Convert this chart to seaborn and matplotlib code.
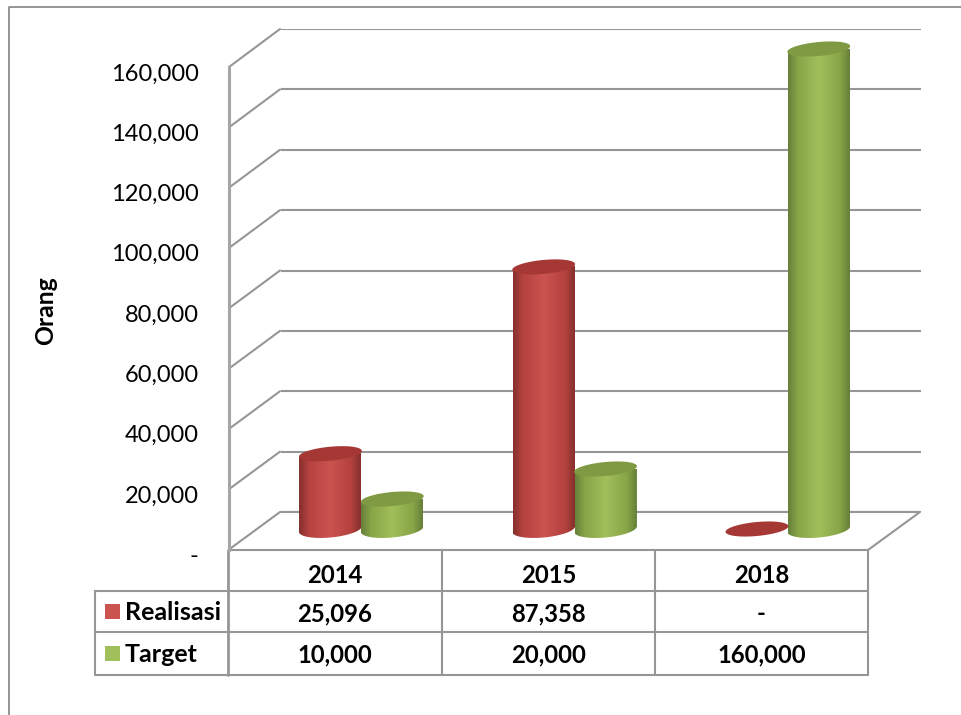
import numpy as np
import pandas as pd
import matplotlib
matplotlib.use("Agg")
import matplotlib.pyplot as plt
from matplotlib.colors import LinearSegmentedColormap
from matplotlib.patches import Polygon, Rectangle
from matplotlib.ticker import FuncFormatter
from matplotlib.transforms import ScaledTranslation
import seaborn as sns

# Data
years = ["2014", "2015", "2018"]
realisasi = [25096, 87358, 0]
target = [10000, 20000, 160000]
series_names = ["Realisasi", "Target"]
y_ticks = [0, 20000, 40000, 60000, 80000, 100000, 120000, 140000, 160000]

# Colours: edge, shoulder, mid tone, cap
RED = ("#86302d", "#b5423f", "#cb5350", "#a53835")
GREEN = ("#66803a", "#88a548", "#a1bf5a", "#7f9a42")
LINE = "#969696"

sns.set_theme(style="white")
plt.rcParams["font.family"] = ["Lato", "DejaVu Sans"]

W, H = 962, 715
fig = plt.figure(figsize=(W / 100, H / 100), dpi=100, facecolor="white")


def axes_px(x0, x1, y_bottom, y_top):
    """Create an axes from pixel bounds measured from the top-left corner."""
    return fig.add_axes([x0 / W, 1 - y_bottom / H, (x1 - x0) / W, (y_bottom - y_top) / H])


def fmt(v):
    return "-" if v == 0 else f"{v:,.0f}"


# Full-figure layer for the frame, floor and table rules
canvas = axes_px(0, W, H, 0)
canvas.set_xlim(0, W)
canvas.set_ylim(H, 0)
canvas.axis("off")
canvas.plot([9, 9, W], [H, 7, 7], color="#8c8c8c", lw=1.3, clip_on=False)

# Back wall with the gridlines
ax_back = axes_px(281, 921, 512, 29)
ax_back.patch.set_alpha(0)
ax_back.set_ylim(0, 160000)
ax_back.set_yticks(y_ticks)
ax_back.set_xticks([])
ax_back.tick_params(left=False, labelleft=False)
ax_back.grid(axis="y", color=LINE, lw=1.5)
sns.despine(ax=ax_back, left=True, bottom=True)

# Front axis carrying the tick labels
ax_front = axes_px(229, 868, 549.5, 67)
ax_front.patch.set_alpha(0)
ax_front.set_ylim(0, 160000)
ax_front.set_yticks(y_ticks)
ax_front.set_xticks([])
ax_front.yaxis.set_major_formatter(FuncFormatter(lambda v, _: fmt(v)))
ax_front.tick_params(axis="y", length=0, pad=22, labelsize=17, labelcolor="black")
label_shift = ScaledTranslation(0, -3.5 / 72, fig.dpi_scale_trans)
for tick_label in ax_front.get_yticklabels():
    tick_label.set_transform(tick_label.get_transform() + label_shift)
ax_front.set_ylabel("Orang", fontsize=17.8, fontweight="bold", color="black")
ax_front.yaxis.set_label_coords((57 - 229) / 639, 0.496)
sns.despine(ax=ax_front, bottom=True)
ax_front.spines["left"].set_color("#a6a6a6")
ax_front.spines["left"].set_linewidth(2.2)

# Diagonal wall lines joining each front tick to its back gridline
to_canvas = canvas.transData.inverted()
for t in y_ticks:
    fx, fy = to_canvas.transform(ax_front.transData.transform((0, t)))
    bx, by = to_canvas.transform(ax_back.transData.transform((0, t)))
    canvas.plot([fx, fx + 51], [fy, by], color=LINE, lw=1.5, solid_capstyle="round")

# Floor
canvas.plot([229, 868, 920, 281], [550, 550, 512, 512], color=LINE, lw=1.5)

# Bars, dressed up as cylinders below; the axes reach under the baseline
# so the rounded cylinder bottoms stay inside the drawing area
PX_PER_UNIT = (529 - 49) / 160000
BELOW = 20 / PX_PER_UNIT
ax_bars = axes_px(254.7, 894.5, 549, 49)
ax_bars.patch.set_alpha(0)
df = pd.DataFrame({
    "Tahun": years * 2,
    "Orang": realisasi + target,
    "Seri": [series_names[0]] * 3 + [series_names[1]] * 3,
})
sns.barplot(data=df, x="Tahun", y="Orang", hue="Seri", hue_order=series_names,
            palette=[RED[2], GREEN[2]], width=0.58, gap=0, legend=False,
            errorbar=None, ax=ax_bars)
ax_bars.set_xlim(-0.5, 2.5)
ax_bars.set_ylim(-BELOW, 160000)
ax_bars.axis("off")

CAP_B = 7
BASE_B = 8.5
TILT = 0.09


def ellipse_pts(cx, cy, a, b, t):
    x = cx + a * np.cos(t)
    y = cy + b * np.sin(t) - TILT * (x - cx)
    return np.column_stack([x, y])


def px_point(x, y):
    return to_canvas.transform(ax_bars.transData.transform((x, y)))


for container, colours in zip(ax_bars.containers, (RED, GREEN)):
    cmap = LinearSegmentedColormap.from_list(
        "cyl",
        [(0, colours[0]), (0.16, colours[1]), (0.5, colours[2]), (0.84, colours[1]), (1, colours[0])])
    for bar in container:
        bar.set_alpha(0)
        x0, w, h = bar.get_x(), bar.get_width(), bar.get_height()
        left, base = px_point(x0, 0)
        right, top = px_point(x0 + w, h)
        a = (right - left) / 2 + 0.5
        cx = (left + right) / 2
        if h > 0:
            t = np.linspace(0, np.pi, 60)
            lower = ellipse_pts(cx, base, a, BASE_B, t)
            body = np.vstack([[[cx - a, top + TILT * a], [cx + a, top - TILT * a]], lower])
            clip = Polygon(body, closed=True, transform=canvas.transData, fc="none", ec="none")
            ax_bars.add_patch(clip)
            grad = np.linspace(0, 1, 128)[None, :]
            im = ax_bars.imshow(grad, cmap=cmap, aspect="auto", zorder=3,
                                extent=(x0, x0 + w, -BELOW, h), interpolation="bilinear")
            im.set_clip_path(clip)
        t = np.linspace(0, 2 * np.pi, 90)
        cap = Polygon(ellipse_pts(cx, top, a, CAP_B, t), closed=True, fc=colours[3], ec="none",
                      transform=canvas.transData, zorder=4, clip_on=False)
        ax_bars.add_patch(cap)
ax_bars.set_xlim(-0.5, 2.5)
ax_bars.set_ylim(-BELOW, 160000)

# Data table under the chart
col_x = [228, 442, 655, 868]
row_y = [550, 591, 632, 675]
row_nudge = [5, 2, 1]
tbl_left = 95
for x in col_x:
    canvas.plot([x, x], [row_y[0], row_y[-1]], color=LINE, lw=2 if x == 228 else 1.5)
canvas.plot([tbl_left, tbl_left], [row_y[1], row_y[-1]], color=LINE, lw=1.5)
for y in row_y[1:]:
    canvas.plot([tbl_left, col_x[-1]], [y, y], color=LINE, lw=1.5)

text_kw = dict(fontsize=17.2, fontweight="bold", color="black", ha="center", va="center")
rows = [years, [fmt(v) for v in realisasi], [fmt(v) for v in target]]
for r, row in enumerate(rows):
    cy = (row_y[r] + row_y[r + 1]) / 2 + row_nudge[r]
    for c, label in enumerate(row):
        canvas.text((col_x[c] + col_x[c + 1]) / 2, cy, label, **text_kw)

for r, (name, colour) in enumerate(zip(series_names, (RED[2], GREEN[2]))):
    cy = (row_y[r + 1] + row_y[r + 2]) / 2
    canvas.add_patch(Rectangle((105, cy - 7.5), 15, 15, fc=colour, ec="none"))
    canvas.text(125, cy + 1, name, fontsize=18, fontweight="bold", color="black",
                ha="left", va="center")

fig.savefig("out.png", dpi=100)
